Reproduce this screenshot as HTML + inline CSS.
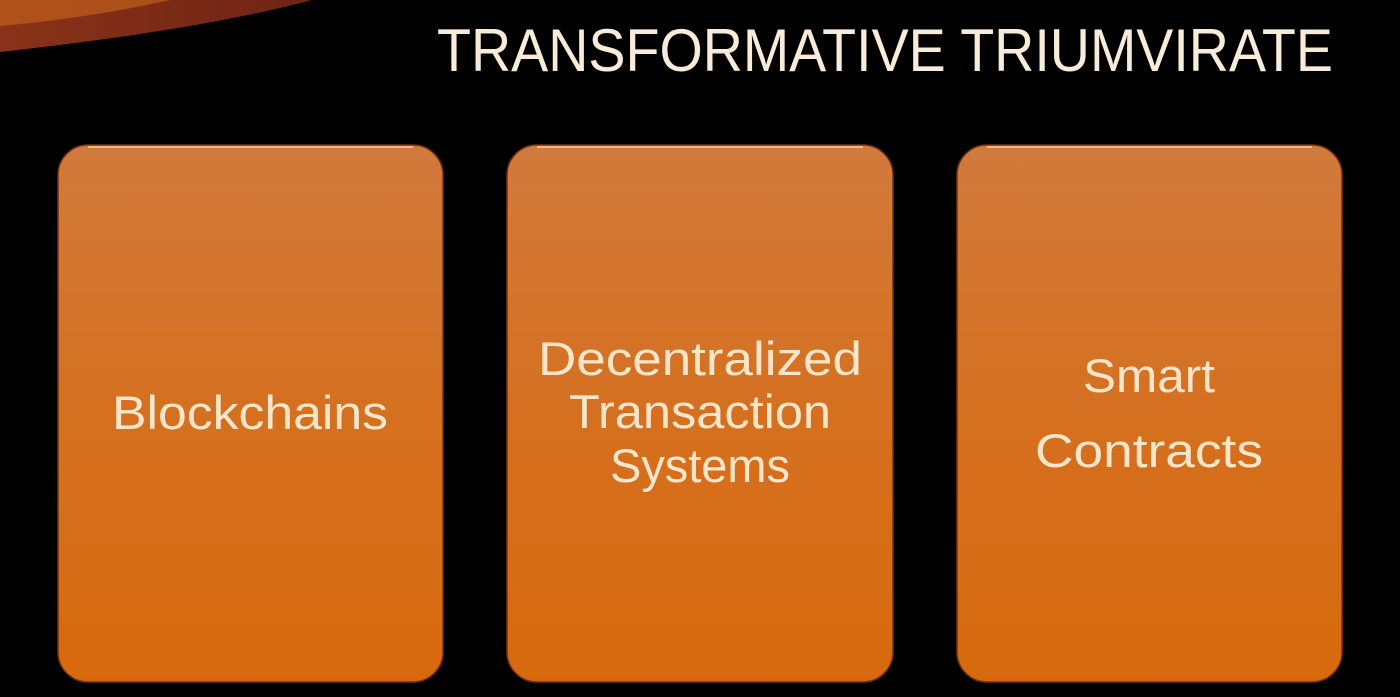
<!DOCTYPE html>
<html><head><meta charset="utf-8"><style>
html,body{margin:0;padding:0;background:#000;width:1400px;height:697px;overflow:hidden}
svg{display:block}
text{font-family:"Liberation Sans",sans-serif}
</style></head><body>
<svg width="1400" height="697" viewBox="0 0 1400 697" xmlns="http://www.w3.org/2000/svg">
<defs>
<linearGradient id="g" x1="0" y1="0" x2="0" y2="1">
<stop offset="0" stop-color="#d27a3c"/>
<stop offset="0.5" stop-color="#d57020"/>
<stop offset="1" stop-color="#d7690d"/>
</linearGradient>
<linearGradient id="sw" x1="0" y1="0" x2="1" y2="0">
<stop offset="0" stop-color="#8a3219"/>
<stop offset="1" stop-color="#6e2414"/>
</linearGradient>
</defs>
<rect width="1400" height="697" fill="#000"/>
<path d="M0 0 L312 0 Q200 30 0 52 Z" fill="url(#sw)"/>
<path d="M0 0 L170 0 Q90 18 0 26 Z" fill="#c0601c" opacity="0.7"/>
<text x="437" y="71" font-size="60" fill="#f8ecd8" textLength="896" lengthAdjust="spacingAndGlyphs">TRANSFORMATIVE TRIUMVIRATE</text>
<g stroke="#7a3010" stroke-width="1.5">
<rect x="58" y="145" width="385" height="537" rx="30" fill="url(#g)"/>
<rect x="507" y="145" width="386" height="537" rx="30" fill="url(#g)"/>
<rect x="957" y="145" width="385" height="537" rx="30" fill="url(#g)"/>
</g>
<g stroke="#f6c8a0" stroke-width="2" fill="none" opacity="0.8">
<path d="M88 147 L413 147"/><path d="M537 147 L863 147"/><path d="M987 147 L1312 147"/>
</g>
<g fill="#fbe6cc" font-size="47" text-anchor="middle">
<text x="250" y="429" textLength="276" lengthAdjust="spacingAndGlyphs">Blockchains</text>
<text x="700" y="375" textLength="324" lengthAdjust="spacingAndGlyphs">Decentralized</text>
<text x="700" y="428" textLength="262" lengthAdjust="spacingAndGlyphs">Transaction</text>
<text x="700" y="482" textLength="180" lengthAdjust="spacingAndGlyphs">Systems</text>
<text x="1149" y="392" textLength="132" lengthAdjust="spacingAndGlyphs">Smart</text>
<text x="1149" y="467" textLength="228" lengthAdjust="spacingAndGlyphs">Contracts</text>
</g>
</svg>
</body></html>
